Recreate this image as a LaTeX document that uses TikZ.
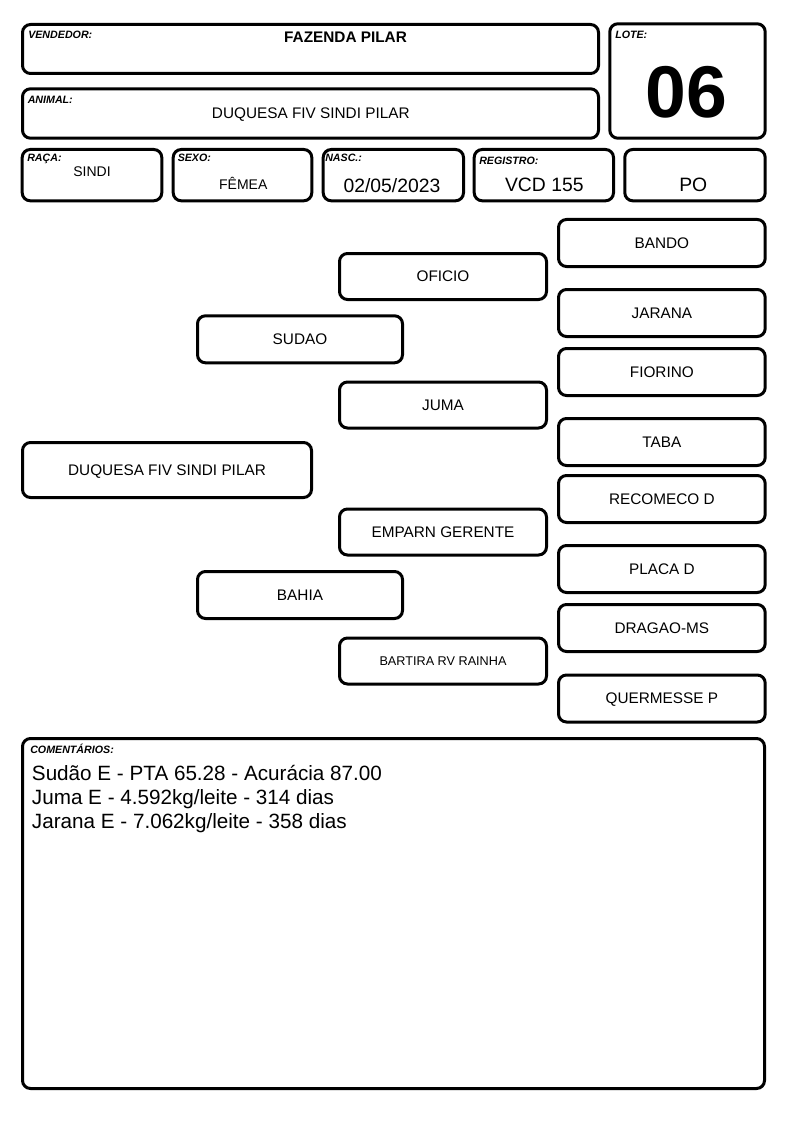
\documentclass[tikz,border=0pt]{standalone}
\usepackage{fontspec}
\setmainfont{Liberation Sans}
\usetikzlibrary{fit}
\tikzset{
  box/.style={draw=black, line width=2.25pt, rounded corners=6pt, inner sep=0pt},
  ped/.style={box, font=\fontsize{11.5}{13}\selectfont, text height=8.2pt, text depth=0pt},
  pedsmall/.style={ped, font=\fontsize{9.5}{11}\selectfont, text height=6.8pt},
  colA/.style={minimum width=216.75pt, minimum height=41.25pt},
  colB/.style={minimum width=153.75pt, minimum height=35.25pt},
  colC/.style={minimum width=155.25pt, minimum height=34.5pt},
  colD/.style={minimum width=155pt, minimum height=35.25pt},
  lbl/.style={anchor=base west, inner sep=0pt, font=\fontsize{8}{9}\selectfont\bfseries\itshape},
  val/.style={anchor=base, inner sep=0pt},
  cmt/.style={anchor=base west, inner sep=0pt, font=\fontsize{15.5}{18}\selectfont},
}
\begin{document}
\begin{tikzpicture}[x=0.75pt,y=-0.75pt]
\useasboundingbox[fill=white] (0,0) rectangle (794,1123);

% ---------- header ----------
\node[box, fit={(22.5,24.5) (598.5,73.5)}] (vend) {};
\node[box, fit={(22.5,88.8) (598.5,138.2)}] (anim) {};
\node[box, fit={(609.8,23.8) (765.2,138.2)}] (lote) {};
\node[box, fit={(22.2,149.5) (161.8,200.8)}] (raca) {};
\node[box, fit={(173.2,149.5) (311.8,200.8)}] (sexo) {};
\node[box, fit={(323.2,149.5) (463.5,200.8)}] (nasc) {};
\node[box, fit={(474.2,149.5) (613.5,200.8)}] (reg) {};
\node[box, fit={(624.8,149.5) (765.2,200.8)}] (po) {};

\node[lbl] (lvend) at (28,39) {VENDEDOR:};
\node[lbl] (lanim) at (27.5,104) {ANIMAL:};
\node[lbl] (llote) at (615,39) {LOTE:};
\node[lbl] (lraca) at (27,162) {RAÇA:};
\node[lbl] (lsexo) at (177.5,162) {SEXO:};
\node[lbl] (lnasc) at (325,162) {NASC.:};
\node[lbl] (lreg) at (479,164.5) {REGISTRO:};

\node[val, font=\fontsize{11.5}{13}\selectfont\bfseries] (vvend) at (345.5,43) {FAZENDA PILAR};
\node[val, font=\fontsize{11.5}{13}\selectfont] (vanim) at (310.8,119) {DUQUESA FIV SINDI PILAR};
\node[val, font=\fontsize{55}{60}\selectfont\bfseries] (vlote) at (686.7,118) {06};
\node[val, font=\fontsize{10.5}{12}\selectfont] (vraca) at (92,177) {SINDI};
\node[val, font=\fontsize{10.5}{12}\selectfont] (vsexo) at (243.3,190) {FÊMEA};
\node[val, font=\fontsize{14.5}{16}\selectfont] (vnasc) at (392,193) {02/05/2023};
\node[val, font=\fontsize{14.5}{16}\selectfont] (vreg) at (544.3,192) {VCD 155};
\node[val, font=\fontsize{14.5}{16}\selectfont] (vpo) at (693.3,192) {PO};

% ---------- pedigree ----------
\node[ped, colA] (p1) at (167,470) {DUQUESA FIV SINDI PILAR};

\node[ped, colB] (p2a) at (300,339.3) {SUDAO};
\node[ped, colB] (p2b) at (300,595) {BAHIA};

\node[ped, colC] (p3a) at (443,276.5) {OFICIO};
\node[ped, colC] (p3b) at (443,405) {JUMA};
\node[ped, colC] (p3c) at (443,532) {EMPARN GERENTE};
\node[pedsmall, colC] (p3d) at (443,661) {BARTIRA RV RAINHA};

\node[ped, colD] (p4a) at (661.85,243) {BANDO};
\node[ped, colD] (p4b) at (661.85,313) {JARANA};
\node[ped, colD] (p4c) at (661.85,372) {FIORINO};
\node[ped, colD] (p4d) at (661.85,442) {TABA};
\node[ped, colD] (p4e) at (661.85,499) {RECOMECO D};
\node[ped, colD] (p4f) at (661.85,569) {PLACA D};
\node[ped, colD] (p4g) at (661.85,628) {DRAGAO-MS};
\node[ped, colD] (p4h) at (661.85,698.5) {QUERMESSE P};

% ---------- comments ----------
\node[box, fit={(22.5,738.5) (764.5,1088.5)}] (com) {};
\node[lbl] (lcom) at (30,753) {COMENTÁRIOS:};
\node[cmt] (c1) at (31.7,780) {Sudão E - PTA 65.28 - Acurácia 87.00};
\node[cmt] (c2) at (31.7,804) {Juma E - 4.592kg/leite - 314 dias};
\node[cmt] (c3) at (31.7,828.5) {Jarana E - 7.062kg/leite - 358 dias};
\end{tikzpicture}
\end{document}
